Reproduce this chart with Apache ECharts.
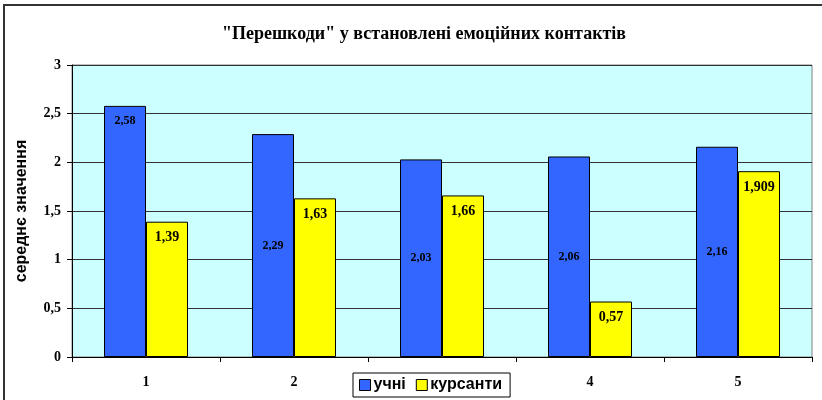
<!DOCTYPE html>
<html>
<head>
<meta charset="utf-8">
<script src="https://cdn.jsdelivr.net/npm/echarts@6/dist/echarts.min.js"></script>
<style>
  html, body { margin: 0; padding: 0; background: #fff; }
  #frame { position: absolute; left: 3px; top: 4px; width: 830px; height: 410px; border: 2px solid #333; box-sizing: border-box; }
  #chart { position: absolute; left: 0; top: 0; width: 822px; height: 400px; }
</style>
</head>
<body>
<div id="frame"></div>
<div id="chart"></div>
<script>
// категорії та значення
const categories = ["1", "2", "3", "4", "5"];
const pupils = [2.58, 2.29, 2.03, 2.06, 2.16];
const cadets = [1.39, 1.63, 1.66, 0.57, 1.909];
const seriesNames = ["учні", "курсанти"];

const comma = (v) => String(v).replace(".", ",");

let myChart = echarts.init(document.getElementById("chart"));
myChart.setOption({
  animation: false,
  title: {
    text: "\"Перешкоди\" у встановлені емоційних контактів",
    left: 419,
    textAlign: "center",
    top: 20,
    textStyle: { fontFamily: "Liberation Serif", fontWeight: "bold", fontSize: 18, color: "#000" },
  },
  legend: {
    data: seriesNames,
    left: 353,
    top: 373,
    padding: [4, 8, 4, 6],
    itemGap: 10,
    itemWidth: 11,
    itemHeight: 11,
    borderColor: "#000",
    borderWidth: 1,
    backgroundColor: "#fff",
    icon: "rect",
    z: 10,
    itemStyle: { borderColor: "#000", borderWidth: 1 },
    textStyle: { fontFamily: "Liberation Sans", fontWeight: "bold", fontSize: 16, color: "#000", padding: [0, 0, 0, -2] },
  },
  grid: {
    left: 72,
    right: 10,
    top: 65,
    bottom: 43,
    show: true,
    backgroundColor: "#CCFFFF",
    borderColor: "#808080",
    borderWidth: 1,
  },
  xAxis: {
    type: "category",
    data: categories,
    axisLine: { lineStyle: { color: "#000" } },
    axisTick: { show: true, length: 5, inside: false, lineStyle: { color: "#000" } },
    axisLabel: { margin: 18, fontFamily: "Liberation Serif", fontWeight: "bold", fontSize: 14, color: "#000" },
  },
  yAxis: {
    type: "value",
    min: 0,
    max: 3,
    interval: 0.5,
    name: "середнє значення",
    nameLocation: "middle",
    nameGap: 42,
    nameTextStyle: { fontFamily: "Liberation Sans", fontWeight: "bold", fontSize: 16, color: "#000" },
    axisLine: { show: true, lineStyle: { color: "#000" } },
    axisTick: { show: true, length: 5, lineStyle: { color: "#000" } },
    axisLabel: {
      margin: 11,
      fontFamily: "Liberation Serif",
      fontWeight: "bold",
      fontSize: 14,
      color: "#000",
      formatter: (v) => comma(v),
    },
    splitLine: { lineStyle: { color: "#333", width: 1 } },
  },
  series: [
    {
      name: seriesNames[0],
      type: "bar",
      data: pupils.map((v, i) => ({
        value: v,
        label: { position: i === 0 ? "insideTop" : "inside", distance: 9 },
      })),
      barWidth: 42,
      barGap: "0%",
      itemStyle: { color: "#3366FF", borderColor: "#000", borderWidth: 1 },
      label: {
        show: true,
        fontFamily: "Liberation Serif",
        fontWeight: "bold",
        fontSize: 12,
        color: "#000",
        formatter: (p) => comma(p.value),
      },
    },
    {
      name: seriesNames[1],
      type: "bar",
      data: cadets,
      barWidth: 42,
      itemStyle: { color: "#FFFF00", borderColor: "#000", borderWidth: 1 },
      label: {
        show: true,
        position: "insideTop",
        distance: 9,
        fontFamily: "Liberation Serif",
        fontWeight: "bold",
        fontSize: 14,
        color: "#000",
        formatter: (p) => comma(p.value),
      },
    },
  ],
});
</script>
</body>
</html>
